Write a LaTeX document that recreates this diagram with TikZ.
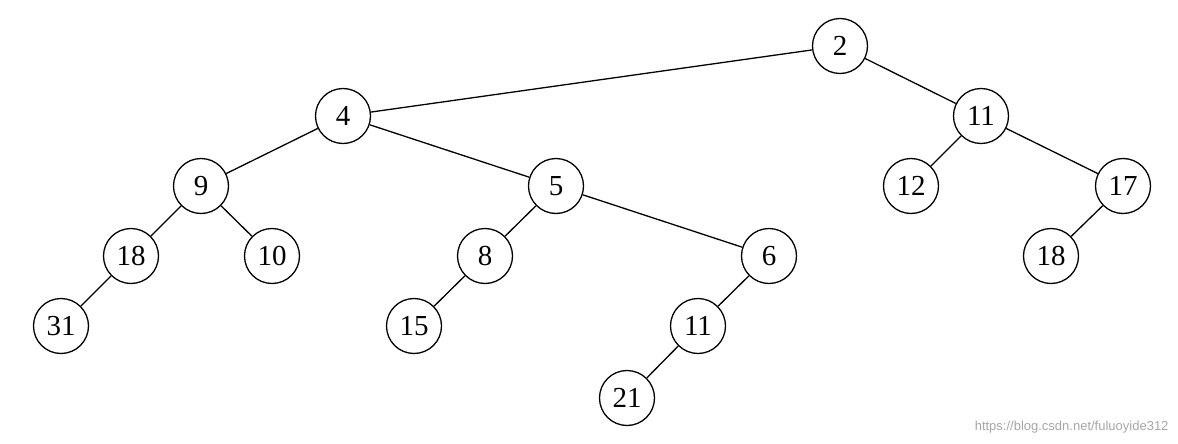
\documentclass[tikz,border=0pt]{standalone}
\usepackage{fontspec}
\setmainfont{Liberation Serif}
\setsansfont{Liberation Sans}
\begin{document}
\begin{tikzpicture}[x=1pt,y=-1pt,
  n/.style={circle,draw,line width=1.3pt,minimum size=55pt,inner sep=0pt,font=\rmfamily\fontsize{29}{29}\selectfont},
  e/.style={line width=1.3pt}]
\useasboundingbox (0,0) rectangle (1178,444);
\node[n] (a) at (840,46) {2};
\node[n] (b) at (343,116) {4};
\node[n] (c) at (981,116) {11};
\node[n] (d) at (201,186) {9};
\node[n] (f) at (556,186) {5};
\node[n] (g) at (911,186) {12};
\node[n] (h) at (1123,186) {17};
\node[n] (i) at (131,256) {18};
\node[n] (j) at (272,256) {10};
\node[n] (k) at (485,256) {8};
\node[n] (l) at (769,256) {6};
\node[n] (m) at (1051,256) {18};
\node[n] (o) at (61,326) {31};
\node[n] (p) at (414,326) {15};
\node[n] (q) at (698,326) {11};
\node[n] (r) at (627,398) {21};
\draw[e] (a)--(b) (a)--(c) (b)--(d) (b)--(f) (c)--(g) (c)--(h)
  (d)--(i) (d)--(j) (f)--(k) (f)--(l) (h)--(m) (i)--(o) (k)--(p) (l)--(q) (q)--(r);
\node[anchor=south east,text=black!35,font=\sffamily\fontsize{13}{13}\selectfont] (w) at (1172,437) {https://blog.csdn.net/fuluoyide312};
\end{tikzpicture}
\end{document}
